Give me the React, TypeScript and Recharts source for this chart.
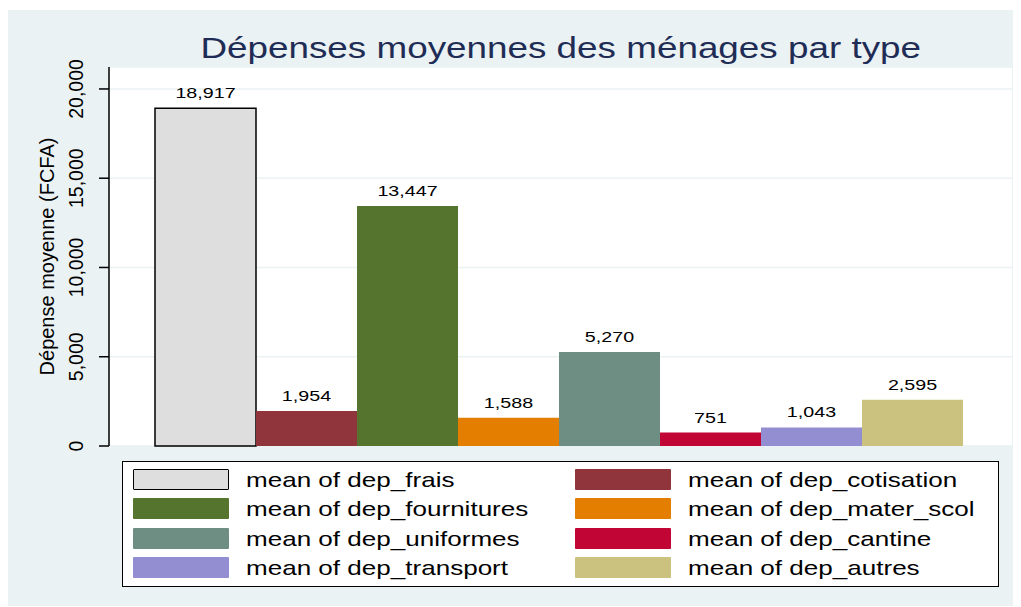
import React from 'react';
import { BarChart, Bar, XAxis, YAxis, CartesianGrid, Legend, LabelList, Label } from 'recharts';

// series (one single category, Stata "graph bar (mean)" style)
const seriesKeys = [
  'dep_frais',
  'dep_cotisation',
  'dep_fournitures',
  'dep_mater_scol',
  'dep_uniformes',
  'dep_cantine',
  'dep_transport',
  'dep_autres',
];
const seriesValues = [18917, 1954, 13447, 1588, 5270, 751, 1043, 2595];
const yTicks = [0, 5000, 10000, 15000, 20000];

const colors = ['#DEDEDE', '#90353B', '#55752F', '#E37E00', '#6E8E84', '#C10534', '#938DD2', '#CAC27E'];

const data = [
  seriesKeys.reduce((row: any, k, i) => {
    row[k] = seriesValues[i];
    return row;
  }, { name: 'all' }),
];

const FONT = '"Liberation Sans", Arial, Helvetica, sans-serif';
const SX = 1.27; // the picture is stretched horizontally

const fmt = (v: number) => v.toLocaleString('en-US');

const stretch = (cx: number) => `matrix(${SX},0,0,1,${-(SX - 1) * cx},0)`;

const BarLabel = (props: any) => {
  const { x, y, width, value } = props;
  const cx = x + width / 2;
  return (
    <text x={cx} y={y - 10} textAnchor="middle" fontFamily={FONT} fontSize={15.5} fill="#000" transform={stretch(cx)}>
      {fmt(value)}
    </text>
  );
};

const YTick = (props: any) => {
  const { x, y, payload } = props;
  return (
    <text x={x} y={y} textAnchor="middle" fontFamily={FONT} fontSize={19.5} fill="#000" transform={`rotate(-90, ${x}, ${y})`}>
      {fmt(payload.value)}
    </text>
  );
};

const LegendBox = () => (
  <div
    style={{
      boxSizing: 'border-box',
      width: 877,
      height: 126,
      border: '1.5px solid #000',
      background: '#fff',
      padding: '7px 0 0 10px',
      display: 'grid',
      gridTemplateColumns: '442px 1fr',
      gridAutoRows: '29.3px',
      fontFamily: FONT,
      fontSize: 21,
      color: '#000',
    }}
  >
    {seriesKeys.map((k, i) => (
      <div key={k} style={{ display: 'flex', alignItems: 'flex-start', height: 29.3 }}>
        <div
          style={{
            boxSizing: 'border-box',
            width: 96,
            height: 21,
            background: colors[i],
            border: i === 0 ? '1.5px solid #000' : 'none',
            borderRadius: 1,
            flex: 'none',
          }}
        />
        <span
          style={{
            display: 'inline-block',
            marginLeft: 17,
            lineHeight: '21px',
            whiteSpace: 'nowrap',
            transform: 'scaleX(1.24)',
            transformOrigin: 'left center',
          }}
        >
          mean of {k}
        </span>
      </div>
    ))}
  </div>
);

export default function App() {
  return (
    <div style={{ position: 'relative', width: 1005, height: 596, marginTop: 2, background: '#EAF2F3' }}>
      <div
        style={{
          position: 'absolute',
          left: 101,
          top: 23.5,
          width: 903,
          textAlign: 'center',
          fontFamily: FONT,
          fontSize: 29,
          lineHeight: '29px',
          color: '#1F2D56',
          whiteSpace: 'nowrap',
          zIndex: 2,
        }}
      >
        <span style={{ display: 'inline-block', transform: `scaleX(${SX})`, transformOrigin: 'center' }}>
          Dépenses moyennes des ménages par type
        </span>
      </div>
      <BarChart
        width={1005}
        height={596}
        data={data}
        margin={{ top: 57, right: 1, left: 0, bottom: 34 }}
        barCategoryGap={46}
        barGap={0}
      >
        <CartesianGrid vertical={false} fill="#fff" stroke="#EAF2F3" strokeWidth={1.5} />
        <XAxis dataKey="name" tick={false} tickLine={false} height={0} axisLine={{ stroke: '#000', strokeWidth: 1.5 }} />
        <YAxis
          width={101}
          domain={[0, 21230]}
          ticks={yTicks}
          interval={0}
          tickSize={10}
          tickMargin={16}
          tick={<YTick />}
          tickLine={{ stroke: '#000', strokeWidth: 1.5 }}
          axisLine={{ stroke: '#000', strokeWidth: 1.5 }}
        >
          <Label
            content={(p: any) => {
              const vb = p.viewBox;
              const cx = 46;
              const cy = vb.y + vb.height / 2;
              return (
                <text x={cx} y={cy} textAnchor="middle" fontFamily={FONT} fontSize={20} fill="#000" transform={`rotate(-90, ${cx}, ${cy})`}>
                  Dépense moyenne (FCFA)
                </text>
              );
            }}
          />
        </YAxis>
        <Legend
          content={<LegendBox />}
          wrapperStyle={{ position: 'absolute', left: 114, top: 451, width: 877, height: 126 }}
        />
        {seriesKeys.map((k, i) => (
          <Bar
            key={k}
            dataKey={k}
            fill={colors[i]}
            stroke={i === 0 ? '#000' : 'none'}
            strokeWidth={i === 0 ? 1.5 : 0}
            isAnimationActive={false}
          >
            <LabelList dataKey={k} content={<BarLabel />} />
          </Bar>
        ))}
      </BarChart>
    </div>
  );
}
